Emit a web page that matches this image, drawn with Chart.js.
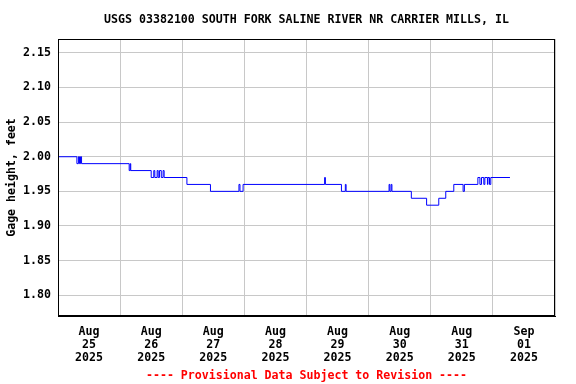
<!DOCTYPE html>
<html>
<head>
<meta charset="utf-8">
<script src="https://cdn.jsdelivr.net/npm/chart.js@4"></script>
<style>
  html, body { margin: 0; padding: 0; background: #fff; }
  #wrap { width: 576px; height: 384px; }
</style>
</head>
<body>
<div id="wrap"><canvas id="gageChart"></canvas></div>
<script>
const chartTitle = 'USGS 03382100 SOUTH FORK SALINE RIVER NR CARRIER MILLS, IL';
const yTitle = 'Gage height, feet';
const footerText = '---- Provisional Data Subject to Revision ----';

// hours since Aug 25 2025 00:00 and gage height (ft) from that time on
const stepHours = [
  0, 7.3, 7.9, 8.3, 8.7, 9.1,
  27.5, 27.9, 28.1,
  36.0, 37.0, 37.4, 38.3, 38.7, 39.2, 39.9, 40.6, 41.0,
  49.8, 58.9,
  69.9, 70.3, 71.5,
  103.0, 103.3, 109.5, 111.0, 111.3,
  127.9, 128.2, 128.7, 129.0,
  136.5, 142.4, 147.1, 149.8, 152.9, 156.5, 157.0,
  162.2, 163.0, 163.6, 164.5, 164.9, 165.9, 166.1, 166.7, 167.2,
  174.6
];
const gageFeet = [
  2.00, 1.99, 2.00, 1.99, 2.00, 1.99,
  1.98, 1.99, 1.98,
  1.97, 1.98, 1.97, 1.98, 1.97, 1.98, 1.97, 1.98, 1.97,
  1.96, 1.95,
  1.96, 1.95, 1.96,
  1.97, 1.96, 1.95, 1.96, 1.95,
  1.96, 1.95, 1.96, 1.95,
  1.94, 1.93, 1.94, 1.95, 1.96, 1.95, 1.96,
  1.97, 1.96, 1.97, 1.96, 1.97, 1.96, 1.97, 1.96, 1.97,
  1.97
];

const yTicks = [1.80, 1.85, 1.90, 1.95, 2.00, 2.05, 2.10, 2.15];
const dayLabels = [
  ['Aug', '25', '2025'], ['Aug', '26', '2025'], ['Aug', '27', '2025'], ['Aug', '28', '2025'],
  ['Aug', '29', '2025'], ['Aug', '30', '2025'], ['Aug', '31', '2025'], ['Sep', '01', '2025']
];

const monoFont = { family: '"DejaVu Sans Mono", monospace', size: 11.6, weight: 'bold', lineHeight: '13px' };
const gridGray = '#c8c8c8';

// title centred over plot area + black frame
const framePlugin = {
  id: 'frame',
  afterDraw(chart) {
    const { ctx, chartArea } = chart;
    ctx.save();
    ctx.strokeStyle = '#000';
    ctx.lineWidth = 1;
    ctx.strokeRect(chartArea.left + 0.5, chartArea.top + 0.5, chartArea.width - 1, chartArea.height - 1);
    ctx.fillStyle = '#000';
    ctx.font = 'bold 11.6px "DejaVu Sans Mono", monospace';
    ctx.textAlign = 'center';
    ctx.textBaseline = 'middle';
    ctx.fillText(chartTitle, (chartArea.left + chartArea.right) / 2, 19.5);
    ctx.restore();
  }
};

const points = stepHours.map((h, i) => ({ x: h, y: gageFeet[i] }));

new Chart(document.getElementById('gageChart'), {
  type: 'line',
  data: {
    datasets: [{
      data: points,
      borderColor: '#0000ff',
      borderWidth: 1,
      pointRadius: 0,
      stepped: 'before',
      fill: false
    }]
  },
  options: {
    responsive: true,
    maintainAspectRatio: false,
    animation: false,
    layout: { padding: { left: 0, right: 21, top: 39, bottom: 2 } },
    plugins: {
      legend: { display: false },
      tooltip: { enabled: false },
      title: { display: false }
    },
    scales: {
      x: {
        type: 'linear',
        min: 0,
        max: 192,
        afterBuildTicks: scale => {
          const t = [];
          for (let h = 0; h <= 192; h += 12) t.push({ value: h });
          scale.ticks = t;
        },
        afterFit: scale => { scale.height = 66; },
        grid: {
          drawTicks: false,
          color: ctx => (ctx.tick && ctx.tick.value % 24 === 0) ? gridGray : 'rgba(0,0,0,0)'
        },
        border: { color: '#000' },
        ticks: {
          autoSkip: false,
          maxRotation: 0,
          padding: 9,
          color: '#000',
          font: monoFont,
          callback: value => (value % 24 === 12) ? dayLabels[(value - 12) / 24] : ''
        },
        title: {
          display: true,
          text: footerText,
          color: '#ff0000',
          font: monoFont,
          padding: { top: 0, bottom: 0 }
        }
      },
      y: {
        min: 1.77,
        max: 2.17,
        afterBuildTicks: scale => { scale.ticks = yTicks.map(v => ({ value: v })); },
        afterFit: scale => { scale.width = 58; },
        grid: { drawTicks: false, color: gridGray },
        border: { color: '#000' },
        ticks: {
          padding: 7,
          color: '#000',
          font: monoFont,
          callback: value => value.toFixed(2)
        },
        title: {
          display: true,
          text: yTitle,
          color: '#000',
          font: monoFont,
          padding: { top: 5, bottom: 0 }
        }
      }
    }
  },
  plugins: [framePlugin]
});
</script>
</body>
</html>
